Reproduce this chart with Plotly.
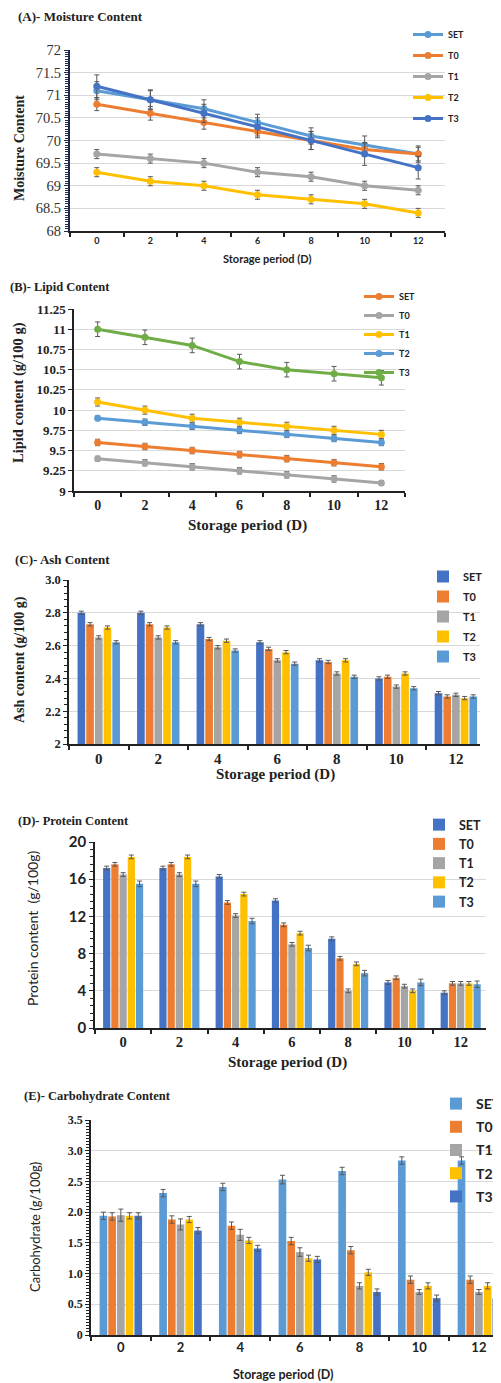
import plotly.graph_objects as go

# ---------------- data ----------------
days = [0, 2, 4, 6, 8, 10, 12]
series_names = ["SET", "T0", "T1", "T2", "T3"]

# (A) Moisture content
moist_SET = [71.1, 70.9, 70.7, 70.4, 70.1, 69.9, 69.7]
moist_T0 = [70.8, 70.6, 70.4, 70.2, 70.0, 69.8, 69.7]
moist_T1 = [69.7, 69.6, 69.5, 69.3, 69.2, 69.0, 68.9]
moist_T2 = [69.3, 69.1, 69.0, 68.8, 68.7, 68.6, 68.4]
moist_T3 = [71.2, 70.9, 70.6, 70.3, 70.0, 69.7, 69.4]
moist_err_SET = [0.2, 0.2, 0.2, 0.18, 0.18, 0.2, 0.18]
moist_err_T0 = [0.14, 0.15, 0.15, 0.14, 0.2, 0.15, 0.15]
moist_err_T1 = [0.1, 0.1, 0.1, 0.1, 0.1, 0.1, 0.1]
moist_err_T2 = [0.1, 0.1, 0.1, 0.1, 0.1, 0.1, 0.1]
moist_err_T3 = [0.25, 0.22, 0.2, 0.2, 0.2, 0.25, 0.25]

# (B) Lipid content
lipid_SET = [9.6, 9.55, 9.5, 9.45, 9.4, 9.35, 9.3]
lipid_T0 = [9.4, 9.35, 9.3, 9.25, 9.2, 9.15, 9.1]
lipid_T1 = [10.1, 10.0, 9.9, 9.85, 9.8, 9.75, 9.7]
lipid_T2 = [9.9, 9.85, 9.8, 9.75, 9.7, 9.65, 9.6]
lipid_T3 = [11.0, 10.9, 10.8, 10.6, 10.5, 10.45, 10.4]
lipid_err_SET = [0.04, 0.04, 0.04, 0.04, 0.04, 0.04, 0.04]
lipid_err_T0 = [0.03, 0.04, 0.04, 0.04, 0.04, 0.04, 0.03]
lipid_err_T1 = [0.05, 0.05, 0.05, 0.05, 0.05, 0.05, 0.05]
lipid_err_T2 = [0.03, 0.04, 0.04, 0.04, 0.04, 0.04, 0.04]
lipid_err_T3 = [0.09, 0.09, 0.09, 0.09, 0.09, 0.09, 0.09]

# (C) Ash content
ash_SET = [2.80, 2.80, 2.73, 2.62, 2.51, 2.40, 2.31]
ash_T0 = [2.73, 2.73, 2.64, 2.58, 2.50, 2.41, 2.29]
ash_T1 = [2.65, 2.65, 2.59, 2.51, 2.43, 2.35, 2.30]
ash_T2 = [2.71, 2.71, 2.63, 2.56, 2.51, 2.43, 2.28]
ash_T3 = [2.62, 2.62, 2.57, 2.49, 2.41, 2.34, 2.29]
ash_err = [0.01, 0.01, 0.01, 0.01, 0.01, 0.01, 0.01]

# (D) Protein content
prot_SET = [17.2, 17.2, 16.3, 13.7, 9.6, 4.9, 3.8]
prot_T0 = [17.6, 17.6, 13.5, 11.1, 7.5, 5.4, 4.8]
prot_T1 = [16.5, 16.5, 12.1, 9.0, 4.0, 4.5, 4.8]
prot_T2 = [18.4, 18.4, 14.4, 10.2, 6.9, 4.0, 4.8]
prot_T3 = [15.5, 15.5, 11.5, 8.6, 5.9, 4.9, 4.7]
prot_err = [0.2, 0.2, 0.2, 0.2, 0.2, 0.2, 0.2]
prot_err_T3 = [0.3, 0.3, 0.3, 0.3, 0.3, 0.35, 0.35]

# (E) Carbohydrate content
carb_SET = [1.94, 2.31, 2.41, 2.53, 2.67, 2.84, 2.84]
carb_T0 = [1.93, 1.88, 1.78, 1.53, 1.38, 0.90, 0.90]
carb_T1 = [1.95, 1.80, 1.63, 1.35, 0.80, 0.70, 0.70]
carb_T2 = [1.94, 1.88, 1.54, 1.25, 1.02, 0.80, 0.80]
carb_T3 = [1.94, 1.70, 1.41, 1.23, 0.70, 0.60, 0.60]
carb_err_SET = [0.06, 0.06, 0.06, 0.07, 0.06, 0.06, 0.06]
carb_err_T0 = [0.06, 0.06, 0.06, 0.06, 0.06, 0.06, 0.06]
carb_err_T1 = [0.1, 0.09, 0.09, 0.07, 0.05, 0.04, 0.04]
carb_err_T2 = [0.05, 0.05, 0.05, 0.05, 0.05, 0.05, 0.05]
carb_err_T3 = [0.05, 0.05, 0.05, 0.05, 0.05, 0.05, 0.05]

# ---------------- style ----------------
OFF = 8                      # page body margin offset
W, H = 501 - OFF, 1383 - OFF  # figure size so that it fills the window
BLUE, ORANGE, GRAY, YELLOW, DBLUE, GREEN = "#5B9BD5", "#ED7D31", "#A5A5A5", "#FFC000", "#4472C4", "#70AD47"
SERIF = "Liberation Serif"
SANS = "Lato"
ERR = "#595959"


def fx(p):
    return (p - OFF) / W


def fy(p):
    return 1 - (p - OFF) / H


fig = go.Figure()

panels = [
    dict(kind="line", ax="", leg="legend",
         data=[moist_SET, moist_T0, moist_T1, moist_T2, moist_T3],
         errs=[moist_err_SET, moist_err_T0, moist_err_T1, moist_err_T2, moist_err_T3],
         colors=[BLUE, ORANGE, GRAY, YELLOW, DBLUE]),
    dict(kind="line", ax="2", leg="legend2",
         data=[lipid_SET, lipid_T0, lipid_T1, lipid_T2, lipid_T3],
         errs=[lipid_err_SET, lipid_err_T0, lipid_err_T1, lipid_err_T2, lipid_err_T3],
         colors=[ORANGE, GRAY, YELLOW, BLUE, GREEN]),
    dict(kind="bar", ax="3", leg="legend3",
         data=[ash_SET, ash_T0, ash_T1, ash_T2, ash_T3],
         errs=[ash_err] * 5,
         colors=[DBLUE, ORANGE, GRAY, YELLOW, BLUE]),
    dict(kind="bar", ax="4", leg="legend4",
         data=[prot_SET, prot_T0, prot_T1, prot_T2, prot_T3],
         errs=[prot_err, prot_err, prot_err, prot_err, prot_err_T3],
         colors=[DBLUE, ORANGE, GRAY, YELLOW, BLUE]),
    dict(kind="bar", ax="5", leg="legend5",
         data=[carb_SET, carb_T0, carb_T1, carb_T2, carb_T3],
         errs=[carb_err_SET, carb_err_T0, carb_err_T1, carb_err_T2, carb_err_T3],
         colors=[BLUE, ORANGE, GRAY, YELLOW, DBLUE]),
]

for pi, p in enumerate(panels):
    for name, vals, er, col in zip(series_names, p["data"], p["errs"], p["colors"]):
        common = dict(x=days, y=vals, name=name, xaxis="x" + p["ax"], yaxis="y" + p["ax"],
                      legend=p["leg"], legendgroup=f"p{pi}-{name}",
                      error_y=dict(type="data", array=er, color=ERR, thickness=1, width=2.5))
        if p["kind"] == "line":
            fig.add_trace(go.Scatter(mode="lines+markers", line=dict(color=col, width=3),
                                     marker=dict(color=col, size=7), **common))
        else:
            fig.add_trace(go.Bar(marker=dict(color=col, line=dict(width=0)), **common))

boundaries = [-1, 1, 3, 5, 7, 9, 11, 13]


def xax(anchor, dom, rng, font):
    return dict(anchor=anchor, domain=dom, range=rng, tickmode="array", tickvals=days,
                ticktext=[str(d) for d in days],
                showgrid=False, zeroline=False, showline=True, linecolor="#222", linewidth=1.5,
                ticks="", tickfont=font,
                minor=dict(tickmode="array", tickvals=boundaries, ticks="outside", ticklen=4,
                           tickcolor="#222", tickwidth=1.5, showgrid=False))


def yax(anchor, dom, rng, dtick, mdtick, font, lc="#222", lw=1.5):
    return dict(anchor=anchor, domain=dom, range=rng, dtick=dtick, tick0=rng[0], showgrid=True,
                gridcolor="#D9D9D9", gridwidth=1, zeroline=False, showline=True, linecolor=lc,
                linewidth=lw, ticks="outside", ticklen=4, tickcolor=lc, tickfont=font,
                minor=dict(dtick=mdtick, tick0=rng[0], ticks="outside", ticklen=3, tickcolor=lc,
                           showgrid=False))


layout = dict(
    width=W, height=H, paper_bgcolor="white", plot_bgcolor="white",
    margin=dict(l=0, r=0, t=0, b=0, autoexpand=False),
    barmode="group", bargap=0.27, bargroupgap=0.12,
    xaxis=xax("y", [fx(70), fx(445)], [-1, 13], dict(family=SANS, size=9, color="#222", weight="bold")),
    yaxis=yax("x", [fy(231), fy(50)], [68, 72], 0.5, 0.05,
              dict(family=SERIF, size=14.5, color="#333"), lc="#1F2D50", lw=2),
    xaxis2=xax("y2", [fx(74), fx(405)], [-1, 13], dict(family=SERIF, size=14, color="#222", weight="bold")),
    yaxis2=yax("x2", [fy(491), fy(309)], [9, 11.25], 0.25, 0.25,
               dict(family=SERIF, size=13, color="#222", weight="bold")),
    xaxis3=xax("y3", [fx(69), fx(480)], [-1, 12.81], dict(family=SERIF, size=15, color="#222", weight="bold")),
    yaxis3=yax("x3", [fy(744), fy(580)], [2, 3], 0.2, 0.04,
               dict(family=SERIF, size=12.5, color="#222", weight="bold")),
    xaxis4=xax("y4", [fx(95), fx(486)], [-1, 12.9], dict(family=SERIF, size=14.5, color="#222", weight="bold")),
    yaxis4=yax("x4", [fy(1028), fy(842)], [0, 20], 4, 0.8,
               dict(family=SANS, size=15, color="#222", weight="bold")),
    xaxis5=xax("y5", [fx(91), 1.0], [-1, 12.74], dict(family=SANS, size=13, color="#222", weight="bold")),
    yaxis5=yax("x5", [fy(1335), fy(1120)], [0, 3.5], 0.5, 0.05,
               dict(family=SERIF, size=12, color="#222", weight="bold")),
)
layout["yaxis3"]["tickvals"] = [2, 2.2, 2.4, 2.6, 2.8, 3.0]
layout["yaxis3"]["ticktext"] = ["2", "2.2", "2.4", "2.6", "2.8", "3.0"]
layout["yaxis5"]["tickvals"] = [0, 0.5, 1, 1.5, 2, 2.5, 3, 3.5]
layout["yaxis5"]["ticktext"] = ["0", "0.5", "1.0", "1.5", "2.0", "2.5", "3.0", "3.5"]


def leg(xp, ytop, size, gap, family=SANS):
    return dict(x=fx(xp), y=fy(ytop), xanchor="left", yanchor="top", bgcolor="rgba(0,0,0,0)",
                font=dict(family=family, size=size, color="#222", weight="bold"),
                tracegroupgap=gap, itemwidth=30, traceorder="grouped")


layout["legend"] = leg(408, 20, 9, 2)
layout["legend2"] = leg(359, 282, 9, 0)
layout["legend3"] = leg(423, 562, 11, 1)
layout["legend4"] = leg(419, 810, 12.5, 0)
layout["legend5"] = leg(436, 1088, 14, 2)

fig.update_layout(**layout)

ann = []


def add_text(text, xp, yp, size, family, bold=True, angle=0, xanchor="center", color="#222"):
    ann.append(dict(text=text, x=fx(xp), y=fy(yp), xref="paper", yref="paper", showarrow=False,
                    xanchor=xanchor, yanchor="middle", textangle=angle,
                    font=dict(family=family, size=size, color=color, weight="bold" if bold else "normal")))


# panel titles
add_text("(A)- Moisture Content", 16, 17, 13, SERIF, xanchor="left")
add_text("(B)- Lipid Content", 8, 287, 12.5, SERIF, xanchor="left")
add_text("(C)- Ash Content", 13, 559, 13, SERIF, xanchor="left")
add_text("(D)- Protein Content", 16, 821, 12.5, SERIF, xanchor="left")
add_text("(E)- Carbohydrate Content", 22, 1096, 12.5, SERIF, xanchor="left")

# y titles
add_text("Moisture Content", 20, 148, 14, SERIF, angle=-90)
add_text("Lipid content (g/100 g)", 18, 393, 14.5, SERIF, angle=-90)
add_text("Ash content (g/100 g)", 20, 660, 14, SERIF, angle=-90)
add_text("Protein content  (g/100g)", 32, 928, 14, SANS, bold=False, angle=-90)
add_text("Carbohydrate (g/100g)", 35, 1227, 13, SANS, bold=False, angle=-90)

# x titles
add_text("Storage period (D)", 267, 258, 11, SANS)
add_text("Storage period (D)", 247, 525, 15, SERIF)
add_text("Storage period (D)", 275, 775, 15, SERIF)
add_text("Storage period (D)", 287, 1062, 15, SERIF)
add_text("Storage period (D)", 283, 1374, 12.5, SANS)

fig.update_layout(annotations=ann)
fig.write_html("out.html")
